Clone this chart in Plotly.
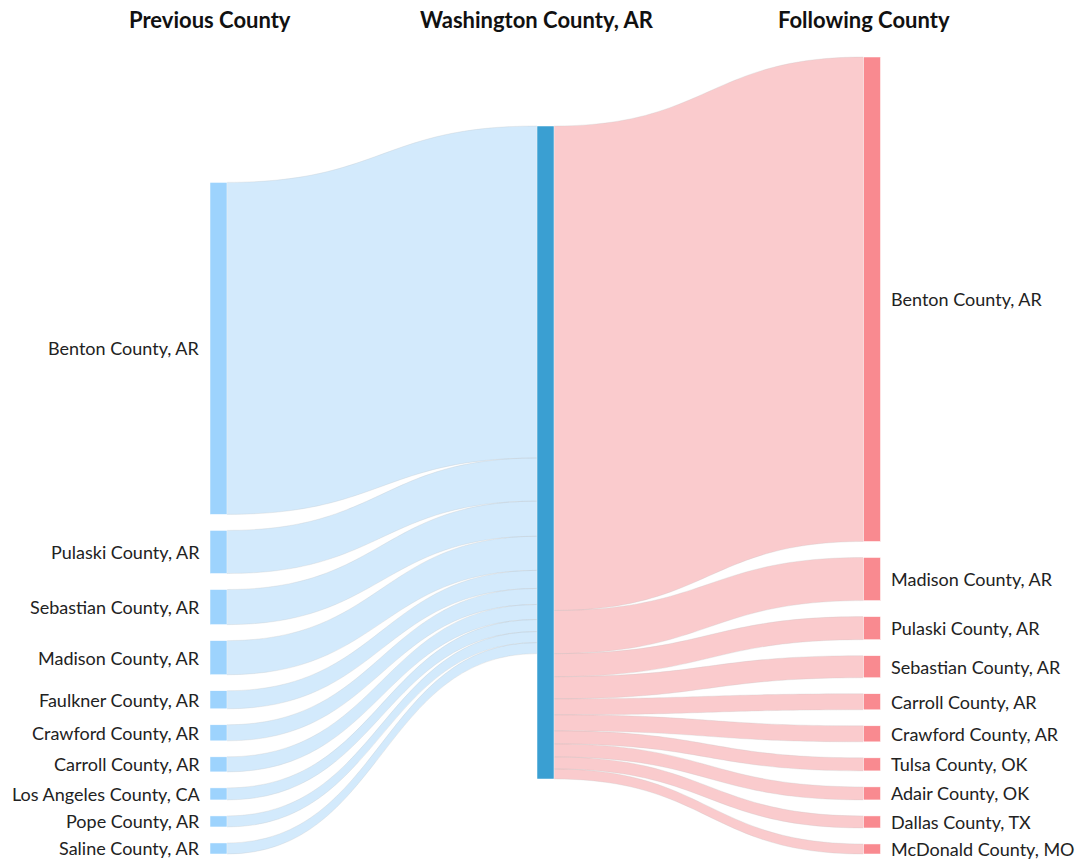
import plotly.graph_objects as go

# ---------------- data ----------------
hub_name = "Washington County, AR"
column_titles = ["Previous County", "Washington County, AR", "Following County"]

prev_counties = [
    "Benton County, AR", "Pulaski County, AR", "Sebastian County, AR",
    "Madison County, AR", "Faulkner County, AR", "Crawford County, AR",
    "Carroll County, AR", "Los Angeles County, CA", "Pope County, AR",
    "Saline County, AR",
]
prev_values = [331, 43, 35, 34, 18, 16, 15, 12, 11, 11]

next_counties = [
    "Benton County, AR", "Madison County, AR", "Pulaski County, AR",
    "Sebastian County, AR", "Carroll County, AR", "Crawford County, AR",
    "Tulsa County, OK", "Adair County, OK", "Dallas County, TX",
    "McDonald County, MO",
]
next_values = [483, 43, 23, 22, 16, 16, 13, 13, 12, 10]

# ---------------- layout constants ----------------
FIG_W, FIG_H = 1075, 862
TOP_PX, BOTTOM_PX = 57, 854         # sankey vertical extent
M_T = TOP_PX
M_B = FIG_H - BOTTOM_PX
PLOT_H = FIG_H - M_T - M_B
COL_X_PX = [218.5, 545.5, 872.0]    # column centres
TITLE_Y_PX = 20
THICK = 17
PAD = 16
LABEL_GAP = 8
FONT = "Lato, 'Open Sans', sans-serif"

NODE_PREV = "#9dd3fd"
NODE_HUB = "#3a9fd2"
NODE_NEXT = "#f98a90"
LINK_PREV = "rgba(150,205,248,0.42)"
LINK_NEXT = "rgba(245,140,145,0.45)"

# ---------------- node geometry (same rule as d3-sankey) ----------------
hub_value = max(sum(prev_values), sum(next_values))
columns = [prev_values, [hub_value], next_values]
ky = min((PLOT_H - (len(c) - 1) * PAD) / sum(c) for c in columns)

# left column: stacked from the bottom
prev_centres = []
y = PLOT_H
for v in reversed(prev_values):
    h = v * ky
    prev_centres.append(y - h / 2)
    y -= h + PAD
prev_centres = prev_centres[::-1]

# hub: centred
hub_centre = PLOT_H / 2 - 3

# right column: stacked from the top
next_centres = []
y = 0
for v in next_values:
    h = v * ky
    next_centres.append(y + h / 2)
    y += h + PAD

labels = prev_counties + [hub_name] + next_counties
node_x = ([COL_X_PX[0] / FIG_W] * len(prev_counties) + [COL_X_PX[1] / FIG_W]
          + [COL_X_PX[2] / FIG_W] * len(next_counties))
node_y = [c / PLOT_H for c in prev_centres] + [hub_centre / PLOT_H] + [c / PLOT_H for c in next_centres]
node_colors = [NODE_PREV] * len(prev_counties) + [NODE_HUB] + [NODE_NEXT] * len(next_counties)

hub_idx = len(prev_counties)
sources, targets, values, link_colors = [], [], [], []
for i, v in enumerate(prev_values):
    sources.append(i); targets.append(hub_idx); values.append(v); link_colors.append(LINK_PREV)
for j, v in enumerate(next_values):
    sources.append(hub_idx); targets.append(hub_idx + 1 + j); values.append(v); link_colors.append(LINK_NEXT)

fig = go.Figure(go.Sankey(
    arrangement="fixed",
    domain=dict(x=[0, 1], y=[0, 1]),
    node=dict(
        label=labels,
        x=node_x,
        y=node_y,
        pad=PAD,
        thickness=THICK,
        color=node_colors,
        line=dict(color="white", width=0.5),
    ),
    link=dict(
        source=sources,
        target=targets,
        value=values,
        color=link_colors,
        line=dict(color="rgba(190,190,190,0.5)", width=0.5),
    ),
    textfont=dict(color="rgba(0,0,0,0)", size=1, family=FONT),
))

annotations = []
for name, yc in zip(prev_counties, prev_centres):
    annotations.append(dict(
        x=(COL_X_PX[0] - THICK / 2 - LABEL_GAP) / FIG_W, y=1 - yc / PLOT_H,
        xref="paper", yref="paper", xanchor="right", yanchor="middle",
        text=name, showarrow=False, font=dict(family=FONT, size=18, color="#222222"),
    ))
for name, yc in zip(next_counties, next_centres):
    annotations.append(dict(
        x=(COL_X_PX[2] + THICK / 2 + LABEL_GAP) / FIG_W, y=1 - yc / PLOT_H,
        xref="paper", yref="paper", xanchor="left", yanchor="middle",
        text=name, showarrow=False, font=dict(family=FONT, size=18, color="#222222"),
    ))
for title, cx in zip(column_titles, COL_X_PX):
    annotations.append(dict(
        x=(cx - THICK / 2) / FIG_W, y=1 + (M_T - TITLE_Y_PX) / PLOT_H,
        xref="paper", yref="paper", xanchor="center", yanchor="middle",
        text="<b>" + title + "</b>", showarrow=False,
        font=dict(family=FONT, size=22, color="#111111"),
    ))

fig.update_layout(
    width=FIG_W, height=FIG_H,
    margin=dict(l=0, r=0, t=M_T, b=M_B, pad=0),
    paper_bgcolor="white", plot_bgcolor="white",
    font=dict(family=FONT),
    annotations=annotations,
)

fig.write_html("out.html", config={"displayModeBar": False},
               post_script="document.body.style.margin='0px';")
